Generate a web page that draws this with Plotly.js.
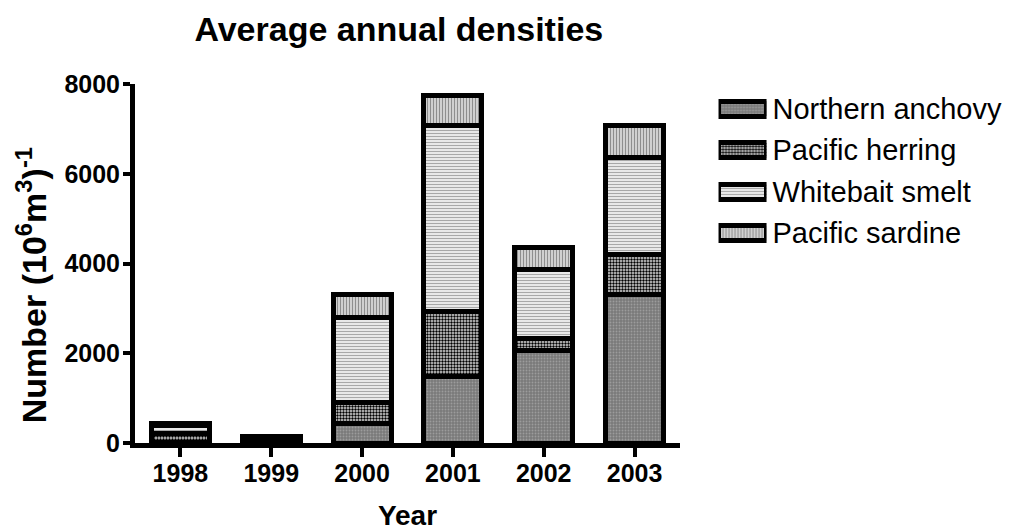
<!DOCTYPE html>
<html>
<head>
<meta charset="utf-8">
<script src="https://cdn.plot.ly/plotly-3.0.1.min.js"></script>
<style>
  html, body { margin: 0; padding: 0; background: #ffffff; }
  #chart { width: 1013px; height: 531px; }
</style>
</head>
<body>
<div id="chart"></div>
<script>
// Survey years and species
const years = ['1998', '1999', '2000', '2001', '2002', '2003'];
const species = ['Northern anchovy', 'Pacific herring', 'Whitebait smelt', 'Pacific sardine'];

// Average annual densities, number (10^6 m^3)^-1, per species
const anchovy = [20, 20, 430, 1490, 2060, 3310];
const herring = [200, 60, 480, 1430, 270, 880];
const smelt   = [170, 50, 1890, 4160, 1530, 2165];
const sardine = [40, 20, 520, 665, 490, 720];

// Y axis ticks
const yTicks = [0, 2000, 4000, 6000, 8000];

const FONT = 'Arial, "Liberation Sans", Helvetica, sans-serif';

// Hatch fills, one per species (same order as `species`)
const patterns = [
  { shape: '.', bgcolor: '#7a7a7a', fgcolor: '#9c9c9c', size: 3, solidity: 0.3 },
  { shape: '.', bgcolor: '#dcdcdc', fgcolor: '#000000', size: 3, solidity: 0.5 },
  { shape: '-', bgcolor: '#e8e8e8', fgcolor: '#a8a8a8', size: 3, solidity: 0.35 },
  { shape: '|', bgcolor: '#d8d8d8', fgcolor: '#8e8e8e', size: 3, solidity: 0.4 }
];
const outline = { color: '#000000', width: 5 };

const seriesValues = [anchovy, herring, smelt, sardine];

// Stacked bars
const traces = species.map((name, i) => ({
  type: 'bar',
  name: name,
  x: years,
  y: seriesValues[i],
  marker: { pattern: patterns[i], line: outline },
  cliponaxis: false,
  showlegend: false,
  hoverinfo: 'x+y+name'
}));

// Key: one swatch per species on its own small axis pair
species.forEach((name, i) => {
  traces.push({
    type: 'bar',
    orientation: 'h',
    x: [1],
    y: [name],
    width: 0.36,
    xaxis: 'x2',
    yaxis: 'y2',
    marker: { pattern: patterns[i], line: outline },
    cliponaxis: false,
    showlegend: false,
    hoverinfo: 'skip'
  });
});

const layout = {
  width: 1013,
  height: 531,
  margin: { l: 135, r: 13, t: 84, b: 88 },
  paper_bgcolor: '#ffffff',
  plot_bgcolor: '#ffffff',
  barmode: 'stack',
  bargap: 0.36,
  font: { family: FONT, color: '#000000' },
  title: {
    text: 'Average annual densities',
    font: { family: FONT, size: 34, weight: 'bold', color: '#000000' },
    xref: 'paper', x: 0.305, xanchor: 'center',
    yref: 'container', y: 0.945, yanchor: 'middle'
  },
  xaxis: {
    domain: [0, 0.63],
    type: 'category',
    range: [-0.5, 5.5],
    showline: true, linewidth: 5, linecolor: '#000000',
    ticks: 'outside', ticklen: 9, tickwidth: 4, tickcolor: '#000000',
    ticklabelstandoff: -5,
    tickfont: { family: FONT, size: 25, weight: 'bold', color: '#000000' },
    showgrid: false, zeroline: false,
    fixedrange: true,
    title: {
      text: 'Year',
      font: { family: FONT, size: 28, weight: 'bold', color: '#000000' },
      standoff: 26
    }
  },
  yaxis: {
    range: [0, 8000],
    tickvals: yTicks,
    ticktext: yTicks.map(String),
    showline: true, linewidth: 5, linecolor: '#000000',
    ticks: 'outside', ticklen: 7, tickwidth: 4, tickcolor: '#000000',
    ticklabelstandoff: -2,
    tickfont: { family: FONT, size: 25, weight: 'bold', color: '#000000' },
    showgrid: false, zeroline: false,
    fixedrange: true
  },
  xaxis2: {
    domain: [0.6746, 0.7301],
    anchor: 'y2',
    range: [0, 1],
    visible: false,
    fixedrange: true
  },
  yaxis2: {
    domain: [0.527, 0.989],
    anchor: 'x2',
    side: 'right',
    type: 'category',
    categoryorder: 'array',
    categoryarray: species,
    autorange: 'reversed',
    showline: false, ticks: '', showgrid: false, zeroline: false,
    ticklabelstandoff: 5,
    tickfont: { family: FONT, size: 29, color: '#000000' },
    fixedrange: true
  },
  annotations: [{
    text: 'Number (10<sup>6</sup>m<sup>3</sup>)<sup>-1</sup>',
    textangle: -90,
    xref: 'paper', x: -0.12, xanchor: 'center',
    yref: 'paper', y: 0.44, yanchor: 'middle',
    showarrow: false,
    font: { family: FONT, size: 34, weight: 'bold', color: '#000000' }
  }]
};

Plotly.newPlot('chart', traces, layout, { displayModeBar: false, staticPlot: true });
</script>
</body>
</html>
